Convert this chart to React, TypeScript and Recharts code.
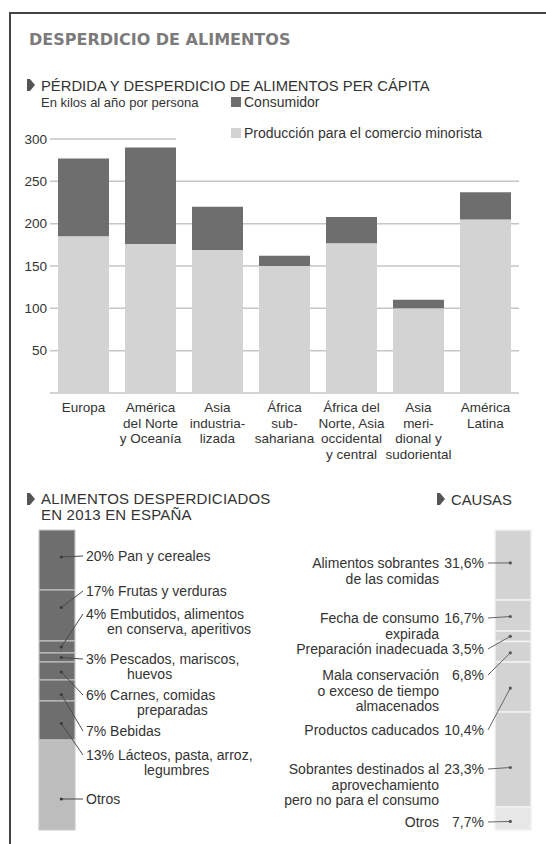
import React from 'react';
import { BarChart, Bar, XAxis, YAxis, CartesianGrid, Legend } from 'recharts';

const FONT = "'Liberation Sans', Arial, sans-serif";

// --- main chart: kg per person per year
const regions = [
  'Europa',
  'América\ndel Norte\ny Oceanía',
  'Asia\nindustria-\nlizada',
  'África\nsub-\nsahariana',
  'África del\nNorte, Asia\noccidental\ny central',
  'Asia\nmeri-\ndional y\nsudoriental',
  'América\nLatina',
];
const retailKg = [185, 176, 169, 150, 177, 100, 205];
const consumerKg = [92, 114, 51, 12, 31, 10, 32];
const yTicks = [0, 50, 100, 150, 200, 250, 300];

// --- Spain 2013, share of wasted food (%)
const spainShares = [20, 17, 4, 3, 6, 7, 13, 30];
const spainLabels = [
  ['20% Pan y cereales'],
  ['17% Frutas y verduras'],
  ['4% Embutidos, alimentos', 'en conserva, aperitivos'],
  ['3% Pescados, mariscos,', 'huevos'],
  ['6% Carnes, comidas', 'preparadas'],
  ['7% Bebidas'],
  ['13% Lácteos, pasta, arroz,', 'legumbres'],
  ['Otros'],
];

// --- causes: segment sizes as drawn, and their printed labels
const causeShares = [23.3, 10.4, 3.5, 6.8, 16.7, 31.6, 7.7];
const causeLabels = [
  ['Alimentos sobrantes', 'de las comidas'],
  ['Fecha de consumo', 'expirada'],
  ['Preparación inadecuada'],
  ['Mala conservación', 'o exceso de tiempo', 'almacenados'],
  ['Productos caducados'],
  ['Sobrantes destinados al', 'aprovechamiento', 'pero no para el consumo'],
  ['Otros'],
];
const causePcts = ['31,6%', '16,7%', '3,5%', '6,8%', '10,4%', '23,3%', '7,7%'];

// layout for the annotations (page pixels)
const BOTTOM_TOP = 500;
const spainTextY = [561, 596, 619, 664, 700, 736, 760, 804];
const spainIndent = [[0], [0], [0, 21], [0, 41], [0, 51], [0], [0, 58], [0]];
const spainDotShift = [-3, -8, 0, 0, 1, 4, 3, 14];
const causeTextY = [568, 623, 654, 680, 735, 774, 827];
const causeNameGap = [56, 56, 47, 56, 56, 56, 56];
const causeDotShift = [-2, 1, 0, 1, 1, 8, 3];

const DARK = '#6e6e6e';
const LIGHT = '#d3d3d3';

const mainData = regions.map((r, i) => ({ region: r, retail: retailKg[i], consumer: consumerKg[i] }));
const spainRow = [Object.fromEntries(spainShares.map((v, i) => [`s${i}`, v]))];
const causeRow = [Object.fromEntries(causeShares.map((v, i) => [`c${i}`, v]))];

const RegionTick = (props: any) => {
  const { x, y, payload } = props;
  const lines = String(payload.value).split('\n');
  return (
    <text x={x} y={y} textAnchor="middle" fontSize={13.5} fill="#333" fontFamily={FONT}>
      {lines.map((l, i) => (
        <tspan key={i} x={x} dy={i === 0 ? 19 : 15.6}>
          {l}
        </tspan>
      ))}
    </text>
  );
};

// second row gets a white band so the 300 gridline stops at the legend
const LegendBox = (props: any) => {
  const payload = props.payload ?? [];
  const order = ['consumer', 'retail'];
  return (
    <div style={{ fontFamily: FONT, fontSize: 14, color: '#333' }}>
      {order.map((key, i) => {
        const p = payload.find((e: any) => e.dataKey === key);
        if (!p) return null;
        return (
          <div
            key={key}
            style={{
              display: 'flex',
              alignItems: 'center',
              height: 20,
              marginTop: i ? 11 : 0,
              paddingLeft: 55,
              background: i ? '#fff' : 'transparent',
            }}
          >
            <span style={{ width: 10, height: 10, background: p.color, marginRight: 3, display: 'inline-block' }} />
            <span>{p.value}</span>
          </div>
        );
      })}
    </div>
  );
};

const renderSpainLabel = (props: any, i: number) => {
  const vb = props.viewBox ?? props;
  const cx = vb.x + vb.width * 0.62;
  const cy = vb.y + vb.height / 2 + spainDotShift[i];
  const textX = vb.x + vb.width + 11;
  const baseY = spainTextY[i] - BOTTOM_TOP;
  return (
    <g key={`sl${i}`}>
      <line x1={cx} y1={cy} x2={textX - 3} y2={baseY - 5} stroke="#4a4a4a" strokeWidth={1} />
      <circle cx={cx} cy={cy} r={1.6} fill="#3a3a3a" />
      <text fontSize={14} fill="#333" fontFamily={FONT}>
        {spainLabels[i].map((t, j) => (
          <tspan key={j} x={textX + spainIndent[i][j]} y={baseY + j * 15}>
            {t}
          </tspan>
        ))}
      </text>
    </g>
  );
};

const renderCauseLabel = (props: any, i: number) => {
  const vb = props.viewBox ?? props;
  const cx = vb.x + vb.width * 0.425;
  const cy = vb.y + vb.height / 2 + causeDotShift[i];
  const baseY = causeTextY[i] - BOTTOM_TOP;
  const nameRight = vb.x - causeNameGap[i];
  return (
    <g key={`cl${i}`}>
      <line x1={vb.x - 7} y1={baseY - 5} x2={cx} y2={cy} stroke="#666" strokeWidth={1} />
      <circle cx={cx} cy={cy} r={1.6} fill="#555" />
      <text fontSize={14} fill="#333" fontFamily={FONT} textAnchor="end">
        {causeLabels[i].map((t, j) => (
          <tspan key={j} x={nameRight} y={baseY + j * 15.5}>
            {t}
          </tspan>
        ))}
      </text>
      <text x={vb.x - 11} y={baseY} fontSize={14} fill="#333" fontFamily={FONT} textAnchor="end">
        {causePcts[i]}
      </text>
    </g>
  );
};

const tri = (x: number, y: number) => `M${x} ${y} h3 l5 6 l-5 6 h-3 z`;

export default function App() {
  return (
    <div style={{ position: 'absolute', left: 0, top: 0, width: 546, height: 844, background: '#fff', overflow: 'hidden' }}>
      <svg width={546} height={844} style={{ position: 'absolute', left: 0, top: 0 }}>
        <path d="M10 844 V13 H546" stroke="#444" strokeWidth={2} fill="none" />
        <text x={29} y={45} fontFamily="'DejaVu Sans', sans-serif" fontWeight="bold" fontSize={16} fill="#7b7b7b">
          DESPERDICIO DE ALIMENTOS
        </text>
        <path d={tri(27, 79)} fill="#555" />
        <text x={41} y={90.7} fontFamily={FONT} fontSize={14.8} fill="#333">
          PÉRDIDA Y DESPERDICIO DE ALIMENTOS PER CÁPITA
        </text>
        <text x={41} y={106.5} fontFamily={FONT} fontSize={13} fill="#333">
          En kilos al año por persona
        </text>
        <path d={tri(27, 493)} fill="#555" />
        <text fontFamily={FONT} fontSize={15} fill="#333" letterSpacing={0.2}>
          <tspan x={41} y={504}>ALIMENTOS DESPERDICIADOS</tspan>
          <tspan x={41} y={520}>EN 2013 EN ESPAÑA</tspan>
        </text>
        <path d={tri(437, 493)} fill="#555" />
        <text x={451} y={505} fontFamily={FONT} fontSize={14.8} fill="#333">
          CAUSAS
        </text>
      </svg>

      <div style={{ position: 'absolute', left: 0, top: 0 }}>
        <BarChart width={546} height={480} data={mainData} margin={{ top: 139, right: 27, bottom: 7, left: 0 }}>
          <CartesianGrid vertical={false} stroke="#c6c6c6" strokeWidth={1.5} />
          <XAxis
            dataKey="region"
            interval={0}
            height={80}
            tickSize={0}
            tickMargin={0}
            axisLine={false}
            tickLine={false}
            tick={<RegionTick />}
          />
          <YAxis
            domain={[0, 300]}
            ticks={yTicks}
            width={50}
            tickSize={0}
            tickMargin={3}
            axisLine={false}
            tickLine={false}
            tickFormatter={(v) => (v === 0 ? '' : String(v))}
            tick={{ fontSize: 13.5, fill: '#333', fontFamily: FONT }}
          />
          <Legend
            layout="vertical"
            align="center"
            verticalAlign="middle"
            wrapperStyle={{ left: 176, top: 92, width: 352, height: 52 }}
            content={<LegendBox />}
          />
          <Bar dataKey="retail" name="Producción para el comercio minorista" stackId="kg" barSize={51} fill={LIGHT} isAnimationActive={false} />
          <Bar dataKey="consumer" name="Consumidor" stackId="kg" barSize={51} fill={DARK} isAnimationActive={false} />
        </BarChart>
      </div>

      <div style={{ position: 'absolute', left: 0, top: BOTTOM_TOP }}>
        <BarChart width={290} height={340} data={spainRow} margin={{ top: 30, right: 213, bottom: 10, left: 37 }}>
          <XAxis hide />
          <YAxis hide domain={[0, 100]} reversed />
          {spainShares.map((_, i) => (
            <Bar
              key={i}
              dataKey={`s${i}`}
              stackId="es"
              barSize={40}
              fill={i < 7 ? DARK : '#bdbdbd'}
              stroke="#c9c9c9"
              strokeWidth={1.2}
              isAnimationActive={false}
              label={(p: any) => renderSpainLabel(p, i)}
            />
          ))}
        </BarChart>
      </div>

      <div style={{ position: 'absolute', left: 280, top: BOTTOM_TOP }}>
        <BarChart width={266} height={340} data={causeRow} margin={{ top: 30, right: 13, bottom: 10, left: 213 }}>
          <XAxis hide />
          <YAxis hide domain={[0, 100]} reversed />
          {causeShares.map((_, i) => (
            <Bar
              key={i}
              dataKey={`c${i}`}
              stackId="causes"
              barSize={40}
              fill={i < 6 ? LIGHT : '#e7e7e7'}
              stroke="#f2f2f2"
              strokeWidth={1.5}
              isAnimationActive={false}
              label={(p: any) => renderCauseLabel(p, i)}
            />
          ))}
        </BarChart>
      </div>
    </div>
  );
}
